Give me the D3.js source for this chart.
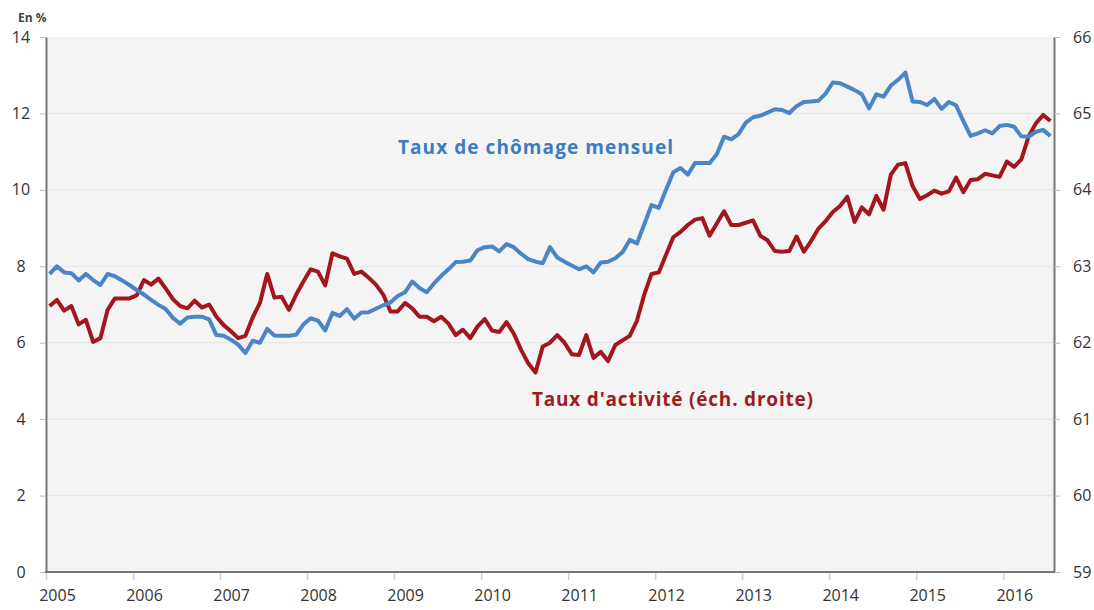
<!DOCTYPE html>
<html lang="fr">
<head>
<meta charset="utf-8">
<title>Taux de chômage et taux d'activité</title>
<script src="https://cdn.jsdelivr.net/npm/d3@7"></script>
<style>
  body { margin: 0; background: #fff; }
  svg text { font-family: "Open Sans", "DejaVu Sans", sans-serif; }
</style>
</head>
<body>
<svg id="chart" width="1094" height="610"></svg>
<script>
// monthly series, Jan 2005 -> Jul 2016
const debut = 2005;
const annees = [2005, 2006, 2007, 2008, 2009, 2010, 2011, 2012, 2013, 2014, 2015, 2016];
const ticksGauche = [0, 2, 4, 6, 8, 10, 12, 14];
const ticksDroite = [59, 60, 61, 62, 63, 64, 65, 66];

// taux de chômage mensuel (échelle gauche, en %)
const chomage = [
  7.8, 8.0, 7.84, 7.82, 7.63, 7.8, 7.64, 7.51, 7.8, 7.74, 7.63, 7.51,
  7.38, 7.26, 7.12, 6.99, 6.88, 6.65, 6.5, 6.66, 6.68, 6.68, 6.61, 6.2,
  6.18, 6.08, 5.95, 5.73, 6.05, 6.0, 6.36, 6.19, 6.18, 6.18, 6.21, 6.48,
  6.64, 6.58, 6.32, 6.78, 6.7, 6.88, 6.63, 6.79, 6.8, 6.89, 6.98, 7.05,
  7.22, 7.32, 7.6, 7.43, 7.32, 7.55, 7.75, 7.92, 8.11, 8.12, 8.15, 8.42,
  8.5, 8.52, 8.39, 8.58, 8.5, 8.33, 8.19, 8.12, 8.08, 8.5, 8.23, 8.12,
  8.02, 7.92, 8.0, 7.84, 8.1, 8.12, 8.21, 8.37, 8.69, 8.6, 9.1, 9.6,
  9.53, 10.0, 10.46, 10.57, 10.4, 10.7, 10.7, 10.7, 10.93, 11.39, 11.32, 11.46,
  11.76, 11.9, 11.94, 12.02, 12.11, 12.09, 12.01, 12.19, 12.3, 12.31, 12.33, 12.52,
  12.81, 12.79, 12.7, 12.61, 12.5, 12.13, 12.5, 12.44, 12.73, 12.88, 13.07, 12.31,
  12.3, 12.22, 12.38, 12.12, 12.3, 12.21, 11.8, 11.41, 11.48, 11.56, 11.48, 11.67,
  11.7, 11.65, 11.4, 11.39, 11.52, 11.57, 11.41
];

// taux d'activité (échelle droite, en %)
const activite = [
  62.48, 62.56, 62.42, 62.48, 62.24, 62.3, 62.01, 62.06, 62.43, 62.58, 62.58, 62.58,
  62.62, 62.82, 62.76, 62.84, 62.71, 62.57, 62.48, 62.45, 62.55, 62.46, 62.5, 62.34,
  62.23, 62.15, 62.06, 62.09, 62.33, 62.52, 62.9, 62.59, 62.6, 62.43, 62.63, 62.8,
  62.96, 62.93, 62.75, 63.17, 63.13, 63.1, 62.9, 62.93, 62.85, 62.76, 62.63, 62.41,
  62.41, 62.52, 62.45, 62.34, 62.34, 62.28, 62.34, 62.25, 62.1, 62.17, 62.06, 62.21,
  62.31, 62.16, 62.14, 62.27, 62.12, 61.91, 61.73, 61.61, 61.95, 62.0, 62.1, 62.0,
  61.85, 61.84, 62.1, 61.8, 61.88, 61.76, 61.97, 62.03, 62.09, 62.29, 62.63, 62.9,
  62.92, 63.15, 63.38, 63.45, 63.54, 63.61, 63.63, 63.4, 63.56, 63.72, 63.54, 63.54,
  63.57, 63.6, 63.4, 63.34, 63.2, 63.19, 63.2, 63.39, 63.19, 63.33, 63.49, 63.59,
  63.71, 63.79, 63.91, 63.58, 63.77, 63.68, 63.92, 63.74, 64.2, 64.33, 64.35, 64.05,
  63.88, 63.93, 63.99, 63.95, 63.98, 64.16, 63.97, 64.13, 64.14, 64.21, 64.19, 64.17,
  64.37, 64.3, 64.4, 64.7, 64.87, 64.98, 64.9
];

const mLeft = 46, mRight = 1054, mTop = 37, mBottom = 572;

const svg = d3.select("#chart");

const x = d3.scaleLinear()
  .domain([debut, debut + chomage.length / 12])
  .range([mLeft, mRight]);
const yG = d3.scaleLinear().domain([0, 14]).range([mBottom, mTop]);
const yD = d3.scaleLinear().domain([59, 66]).range([mBottom, mTop]);

// fond
svg.append("rect")
  .attr("x", mLeft).attr("y", mTop)
  .attr("width", mRight - mLeft).attr("height", mBottom - mTop)
  .attr("fill", "#f4f4f4");

// grille
svg.append("g")
  .selectAll("line")
  .data(ticksGauche.slice(1, -1))
  .join("line")
  .attr("x1", mLeft).attr("x2", mRight)
  .attr("y1", d => yG(d)).attr("y2", d => yG(d))
  .attr("stroke", "#e4e4e4").attr("stroke-width", 1);

// axe des x
const axeX = svg.append("g")
  .attr("transform", `translate(0,${mBottom})`)
  .call(d3.axisBottom(x).tickValues(annees).tickFormat(d3.format("d")).tickSize(8).tickPadding(10));
axeX.select(".domain").remove();
axeX.selectAll(".tick line").attr("stroke", "#cfcfcf").attr("stroke-width", 1.5);
axeX.selectAll(".tick text")
  .attr("dx", 11)
  .attr("font-size", 16).attr("fill", "#333");

// axe gauche
const axeG = svg.append("g")
  .attr("transform", `translate(${mLeft},0)`)
  .call(d3.axisLeft(yG).tickValues(ticksGauche).tickFormat(d3.format("d"))
    .tickSize(6).tickPadding(12).tickSizeOuter(0));
axeG.select(".domain").attr("stroke", "#777").attr("stroke-width", 2);
axeG.selectAll(".tick line").attr("stroke", "#bbb");
axeG.selectAll(".tick text")
  .attr("text-anchor", "middle").attr("x", -25)
  .attr("font-size", 16).attr("fill", "#333");

// axe droit
const axeD = svg.append("g")
  .attr("transform", `translate(${mRight},0)`)
  .call(d3.axisRight(yD).tickValues(ticksDroite).tickFormat(d3.format("d"))
    .tickSize(6).tickPadding(13).tickSizeOuter(0));
axeD.select(".domain").attr("stroke", "#777").attr("stroke-width", 2);
axeD.selectAll(".tick line").attr("stroke", "#bbb");
axeD.selectAll(".tick text")
  .attr("font-size", 16).attr("fill", "#333");

// ligne de base
svg.append("line")
  .attr("x1", mLeft - 1).attr("x2", mRight + 1)
  .attr("y1", mBottom).attr("y2", mBottom)
  .attr("stroke", "#777").attr("stroke-width", 2);

// courbes
const xMois = (d, i) => x(debut + (i + 0.5) / 12);

svg.append("path")
  .datum(activite)
  .attr("fill", "none")
  .attr("stroke", "#a3161d")
  .attr("stroke-width", 4)
  .attr("stroke-linejoin", "round")
  .attr("d", d3.line().x(xMois).y(d => yD(d)));

svg.append("path")
  .datum(chomage)
  .attr("fill", "none")
  .attr("stroke", "#4a86c7")
  .attr("stroke-width", 4)
  .attr("stroke-linejoin", "round")
  .attr("d", d3.line().x(xMois).y(d => yG(d)));

// libellés
svg.append("text")
  .attr("x", 18).attr("y", 22)
  .attr("font-size", 12).attr("font-weight", "bold").attr("fill", "#444")
  .text("En %");

svg.append("text")
  .attr("x", 398).attr("y", 154)
  .attr("font-size", 19).attr("font-weight", "bold").attr("fill", "#3b7dc3")
  .attr("textLength", 275).attr("lengthAdjust", "spacing")
  .text("Taux de chômage mensuel");

svg.append("text")
  .attr("x", 532).attr("y", 406)
  .attr("font-size", 19).attr("font-weight", "bold").attr("fill", "#a01b20")
  .attr("textLength", 281).attr("lengthAdjust", "spacing")
  .text("Taux d'activité (éch. droite)");
</script>
</body>
</html>
